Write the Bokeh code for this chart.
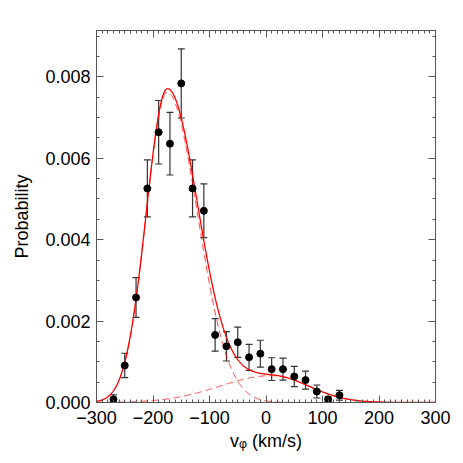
import numpy as np
from bokeh.plotting import figure
from bokeh.models import (Range1d, FixedTicker, LinearAxis, Whisker, ColumnDataSource,
                          TeeHead, PrintfTickFormatter)
from bokeh.embed import file_html
from bokeh.resources import INLINE

# ---- data ----
v_phi = [-270, -250, -230, -210, -190, -170, -150, -130, -110, -90, -70,
         -50, -30, -10, 10, 30, 50, 70, 90, 110, 130]
probability = [0.00008, 0.00091, 0.00258, 0.00526, 0.00664, 0.00636, 0.00784,
               0.00526, 0.00471, 0.00166, 0.00138, 0.00148, 0.00111, 0.00120,
               0.00082, 0.00082, 0.00064, 0.00055, 0.00027, 0.00008, 0.00018]
prob_err = [0.00011, 0.00030, 0.00049, 0.00070, 0.00078, 0.00077, 0.00085,
            0.00070, 0.00066, 0.00040, 0.00036, 0.00037, 0.00032, 0.00033,
            0.00028, 0.00027, 0.00025, 0.00022, 0.00016, 0.00006, 0.00012]

# model components (split-normal fits): mode, amplitude, left/right widths
comp_mode = [-175.0, 10.0]
comp_amp = [0.00762, 0.00066]
comp_sigma_left = [37.0, 92.0]
comp_sigma_right = [54.0, 66.0]

x_ticks = [-300, -200, -100, 0, 100, 200, 300]
x_tick_labels = ["\u2212300", "\u2212200", "\u2212100", "0", "100", "200", "300"]
y_ticks = [0.000, 0.002, 0.004, 0.006, 0.008]

FONT = "Liberation Sans"
AX = "#555555"

p = figure(width=455, height=455, output_backend="svg", toolbar_location=None,
           x_range=Range1d(-300, 300), y_range=Range1d(0, 0.00914),
           min_border_left=96, min_border_right=20, min_border_top=30,
           min_border_bottom=53)
p.grid.visible = False
p.outline_line_color = AX
p.background_fill_color = "white"
p.border_fill_color = "white"

# model curves
xs = np.linspace(-300, 300, 1201)
comps = []
for m, a, sl, sr in zip(comp_mode, comp_amp, comp_sigma_left, comp_sigma_right):
    s = np.where(xs < m, sl, sr)
    comps.append(a * np.exp(-0.5 * ((xs - m) / s) ** 2))
total = comps[0] + comps[1]
for c in comps:
    p.line(xs, c, line_color="red", line_width=1, line_dash="7 4", line_alpha=0.75)
p.line(xs, total, line_color="red", line_width=1.3)

# data with error bars
src = ColumnDataSource(dict(
    x=v_phi, y=probability,
    upper=[y + e for y, e in zip(probability, prob_err)],
    lower=[y - e for y, e in zip(probability, prob_err)],
))
wh = Whisker(source=src, base="x", upper="upper", lower="lower",
             line_color="#333333", line_width=1.2,
             upper_head=TeeHead(size=7, line_color="#333333", line_width=1.2),
             lower_head=TeeHead(size=7, line_color="#333333", line_width=1.2))
p.add_layout(wh)
p.scatter("x", "y", source=src, size=7, color="black")

x_minor = list(range(-300, 301, 10))
y_minor = [i * 0.0005 for i in range(0, 19)]

def style(ax):
    ax.axis_line_color = AX
    ax.major_tick_line_color = AX
    ax.minor_tick_line_color = AX
    ax.major_tick_in = 7
    ax.major_tick_out = 0
    ax.minor_tick_in = 3
    ax.minor_tick_out = 0
    ax.major_label_text_font = FONT
    ax.major_label_text_font_size = "18px"
    ax.major_label_text_color = "black"
    ax.axis_label_text_font = FONT
    ax.axis_label_text_font_size = "18px"
    ax.axis_label_text_font_style = "normal"
    ax.axis_label_text_color = "black"

xa = p.xaxis[0]
xa.ticker = FixedTicker(ticks=x_ticks, minor_ticks=x_minor)
xa.major_label_overrides = {t: l for t, l in zip(x_ticks, x_tick_labels)}
style(xa)
xa.major_label_standoff = 8
xa.axis_label = "v\u1d69 (km/s)"
xa.axis_label_standoff = 4

ya = p.yaxis[0]
ya.ticker = FixedTicker(ticks=y_ticks, minor_ticks=y_minor)
ya.formatter = PrintfTickFormatter(format="%.3f")
style(ya)
ya.major_label_standoff = 6
ya.axis_label = "Probability"
ya.axis_label_standoff = 10

top = LinearAxis(ticker=FixedTicker(ticks=x_ticks, minor_ticks=x_minor),
                 major_label_overrides={t: "" for t in x_ticks})
style(top)
top.major_label_text_font_size = "0px"
p.add_layout(top, "above")

right = LinearAxis(ticker=FixedTicker(ticks=y_ticks, minor_ticks=y_minor),
                   major_label_overrides={t: "" for t in y_ticks})
style(right)
right.major_label_text_font_size = "0px"
p.add_layout(right, "right")

open("out.html", "w").write(file_html(p, INLINE))
